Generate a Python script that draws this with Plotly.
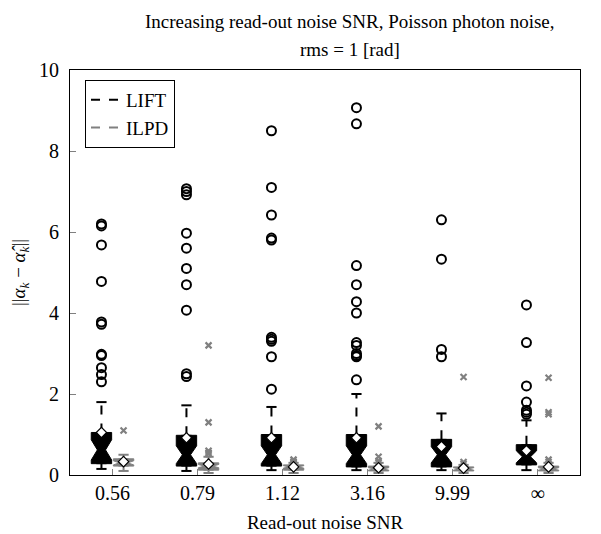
import plotly.graph_objects as go

categories = ["0.56", "0.79", "1.12", "3.16", "9.99", "∞"]

# LIFT statistics
lift_q1 = [0.28, 0.22, 0.22, 0.2, 0.2, 0.25]
lift_med = [0.62, 0.5, 0.5, 0.5, 0.5, 0.45]
lift_q3 = [1.05, 0.98, 1.0, 1.0, 0.88, 0.75]
lift_lo = [0.15, 0.1, 0.12, 0.12, 0.12, 0.12]
lift_hi = [1.8, 1.72, 1.68, 2.0, 1.52, 1.35]
lift_mean = [1.05, 0.92, 0.92, 0.92, 0.7, 0.6]
lift_notch = [0.25, 0.22, 0.22, 0.22, 0.2, 0.15]
lift_out = [
    [6.2, 6.15, 5.68, 4.78, 3.78, 3.72, 2.98, 2.95, 2.65, 2.48, 2.3],
    [7.07, 7.0, 6.92, 5.97, 5.6, 5.1, 4.7, 4.07, 2.5, 2.43],
    [8.5, 7.1, 6.42, 5.85, 5.8, 3.4, 3.35, 3.3, 2.92, 2.12],
    [9.07, 8.67, 5.17, 4.7, 4.28, 4.0, 3.27, 3.2, 3.0, 2.95, 2.92, 2.35],
    [6.3, 5.33, 3.1, 2.92],
    [4.2, 3.27, 2.2, 1.8, 1.6, 1.55, 1.5],
]

# ILPD statistics
ilpd_q1 = [0.22, 0.12, 0.12, 0.1, 0.1, 0.1]
ilpd_med = [0.3, 0.22, 0.2, 0.15, 0.15, 0.15]
ilpd_q3 = [0.4, 0.3, 0.25, 0.22, 0.2, 0.22]
ilpd_lo = [0.1, 0.05, 0.05, 0.05, 0.05, 0.05]
ilpd_hi = [0.5, 0.45, 0.3, 0.3, 0.25, 0.3]
ilpd_mean = [0.33, 0.27, 0.2, 0.18, 0.17, 0.2]
ilpd_notch = [0.05, 0.04, 0.03, 0.03, 0.03, 0.03]
ilpd_out = [
    [1.1],
    [3.2, 1.3, 0.6, 0.55, 0.52],
    [0.38, 0.33, 0.3],
    [1.2, 0.45, 0.35, 0.3],
    [2.42, 0.32, 0.27],
    [2.4, 1.55, 1.5, 0.38, 0.32],
]

FONT = "Liberation Serif"
GRAY = "#808080"
BW = 0.24
OFF = 0.13
CAP = 0.06

# figure geometry (page body has an 8px margin)
W, H = 593, 526
ML, MR, MT, MB = 62, 21, 62, 59

fig = go.Figure()


def add_series(name, off, color, q1, med, q3, lo, hi, mean, notch, outs, osym, osize, ocolor, olinew):
    xs = [i + off for i in range(len(categories))]
    wx, wy = [], []
    cx, cy = [], []
    for x, a, b, c, d in zip(xs, lo, q1, q3, hi):
        wx += [x, x, None, x, x, None]
        wy += [a, b, None, c, d, None]
        cx += [x - CAP, x + CAP, None, x - CAP, x + CAP, None]
        cy += [a, a, None, d, d, None]
    fig.add_trace(go.Scatter(x=wx, y=wy, mode="lines", line=dict(color=color, width=2, dash="dash"),
                             showlegend=False, hoverinfo="skip"))
    fig.add_trace(go.Scatter(x=cx, y=cy, mode="lines", line=dict(color=color, width=2),
                             showlegend=False, hoverinfo="skip"))
    fig.add_trace(go.Box(
        x=xs, q1=q1, median=med, q3=q3, lowerfence=q1, upperfence=q3,
        notched=True, notchspan=notch, notchwidth=0.3,
        fillcolor=color, line=dict(color=color, width=1), width=BW,
        showlegend=False, hoverinfo="skip", name=name))
    ox, oy = [], []
    for x, vals in zip(xs, outs):
        ox += [x] * len(vals)
        oy += vals
    fig.add_trace(go.Scatter(x=ox, y=oy, mode="markers",
                             marker=dict(symbol=osym, size=osize, color=ocolor,
                                         line=dict(color=ocolor, width=olinew)),
                             showlegend=False, hoverinfo="skip"))
    fig.add_trace(go.Scatter(x=xs, y=mean, mode="markers",
                             marker=dict(symbol="diamond", size=8, color="white",
                                         line=dict(color="black", width=1.2)),
                             showlegend=False, hoverinfo="skip"))
    fig.add_trace(go.Scatter(x=[None], y=[None], mode="lines", name=name,
                             line=dict(color=color, width=2, dash="dash")))


add_series("LIFT", -OFF, "black", lift_q1, lift_med, lift_q3, lift_lo, lift_hi, lift_mean,
           lift_notch, lift_out, "circle-open", 9, "black", 2)
add_series("ILPD", OFF, GRAY, ilpd_q1, ilpd_med, ilpd_q3, ilpd_lo, ilpd_hi, ilpd_mean,
           ilpd_notch, ilpd_out, "x-thin-open", 6, GRAY, 2.2)

pw, ph = W - ML - MR, H - MT - MB


def px(x):
    return (x - ML) / pw


def py(y):
    return (H - MB - y) / ph


fig.update_layout(
    width=W, height=H,
    margin=dict(l=ML, r=MR, t=MT, b=MB),
    paper_bgcolor="white", plot_bgcolor="white",
    font=dict(family=FONT, size=19, color="black"),
    boxmode="overlay",
    showlegend=True,
    legend=dict(x=px(77), y=py(72), xanchor="left", yanchor="top",
                bordercolor="black", borderwidth=1, bgcolor="white",
                font=dict(family=FONT, size=19), tracegroupgap=0,
                itemwidth=30),
    xaxis=dict(range=[-0.5, 5.5], tickvals=list(range(len(categories))), ticktext=categories,
               showgrid=False, zeroline=False, showline=True, linecolor="black", linewidth=1,
               mirror=True, ticks="inside", ticklen=6, tickcolor=GRAY, automargin=False,
               tickfont=dict(family=FONT, size=20),
               title=dict(text="Read-out noise SNR", font=dict(family=FONT, size=19), standoff=12)),
    yaxis=dict(range=[0, 10], tickvals=[0, 2, 4, 6, 8, 10],
               showgrid=False, zeroline=False, showline=True, linecolor="black", linewidth=1,
               mirror=True, ticks="inside", ticklen=6, tickcolor=GRAY, automargin=False,
               tickfont=dict(family=FONT, size=20), ticklabelstandoff=6,
               title=dict(text="||<i>α<sub>k</sub></i> − <i>α̂<sub>k</sub></i>||",
                          font=dict(family=FONT, size=19), standoff=10)),
    annotations=[
        dict(text="Increasing read-out noise SNR, Poisson photon noise,", x=px(342), y=py(13),
             xanchor="center", yanchor="middle", borderpad=0,
             xref="paper", yref="paper", showarrow=False, font=dict(family=FONT, size=19)),
        dict(text="rms = 1 [rad]", x=px(342), y=py(41), xanchor="center", yanchor="middle",
             borderpad=0, xref="paper", yref="paper",
             showarrow=False, font=dict(family=FONT, size=19)),
    ],
)

fig.write_html("out.html")
